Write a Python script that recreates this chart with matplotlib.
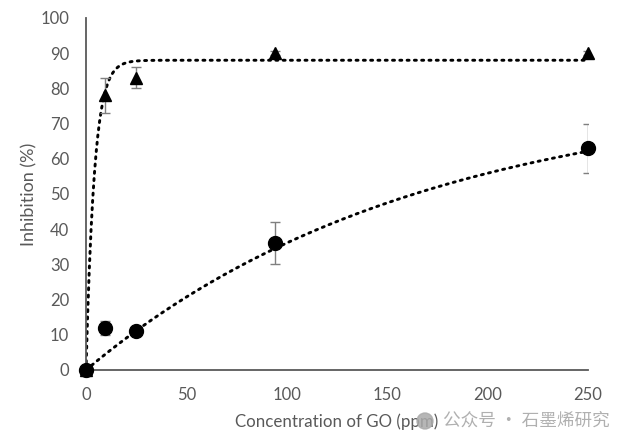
import numpy as np
import matplotlib
matplotlib.use("Agg")
import matplotlib.pyplot as plt

# Data
conc = [0, 9.4, 25, 94, 250]
tri_vals = [0, 78, 83, 90, 90]
tri_err_up = [0, 5, 3, 0.5, 0.5]
tri_err_dn = [0, 5, 3, 0.5, 0.5]
circ_vals = [0, 12, 11, 36, 63]
circ_err = [0, 2, 1, 6, 7]

# Trendline model parameters (saturating exponential fits)
tri_fit_A, tri_fit_k = 88.0, 0.24
circ_fit_A, circ_fit_k = 80.0, 0.006

x_ticks = [0, 50, 100, 150, 200, 250]
y_ticks = [0, 10, 20, 30, 40, 50, 60, 70, 80, 90, 100]

plt.rcParams['font.family'] = ['Lato', 'DejaVu Sans']
txt = '#595959'

fig = plt.figure(figsize=(6.24, 4.45), dpi=100)
ax = fig.add_axes([86/624, 1-370/445, (588-86)/624, (370-18)/445])

xs = np.linspace(0, 250, 600)
ax.plot(xs, tri_fit_A*(1-np.exp(-tri_fit_k*xs)), color='black', lw=2.1,
        linestyle=(0, (0.7, 1.8)), dash_capstyle='round', zorder=2)
ax.plot(xs, circ_fit_A*(1-np.exp(-circ_fit_k*xs)), color='black', lw=2.1,
        linestyle=(0, (0.7, 1.8)), dash_capstyle='round', zorder=2)

ax.errorbar(conc, tri_vals, yerr=[tri_err_dn, tri_err_up], fmt='none',
            ecolor='#7f7f7f', elinewidth=1, capsize=3.5, capthick=1, zorder=3)
ax.errorbar(conc, circ_vals, yerr=circ_err, fmt='none',
            ecolor='#7f7f7f', elinewidth=1, capsize=3.5, capthick=1, zorder=3)
ax.plot(conc, tri_vals, linestyle='none', marker='^', color='black',
        markersize=9, clip_on=False, zorder=4)
ax.plot(conc, circ_vals, linestyle='none', marker='o', color='black',
        markersize=10, clip_on=False, zorder=5)

ax.set_xlim(0, 250)
ax.set_ylim(0, 100)
ax.set_xticks(x_ticks)
ax.set_yticks(y_ticks)
for s in ['top', 'right']:
    ax.spines[s].set_visible(False)
for s in ['left', 'bottom']:
    ax.spines[s].set_color('#595959')
    ax.spines[s].set_linewidth(1.3)
ax.tick_params(length=0, labelsize=12, labelcolor=txt, pad=12)
ax.set_xlabel('Concentration of GO (ppm)', fontsize=12.2, color=txt, labelpad=8)
ax.set_ylabel('Inhibition (%)', fontsize=13, color=txt, labelpad=2)

# watermark
fig.text(443/624, 1-421/445, '公众号 · 石墨烯研究', fontsize=12.7, color='#b0b0b0',
         family=['Noto Sans CJK SC', 'DejaVu Sans'], va='center', ha='left')
fig.add_artist(matplotlib.patches.Ellipse((425/624, 1-421/445), 16/624, 16/445,
               transform=fig.transFigure, color='#aaaaaa', alpha=0.85, zorder=10))

fig.savefig('out.png', dpi=100)
